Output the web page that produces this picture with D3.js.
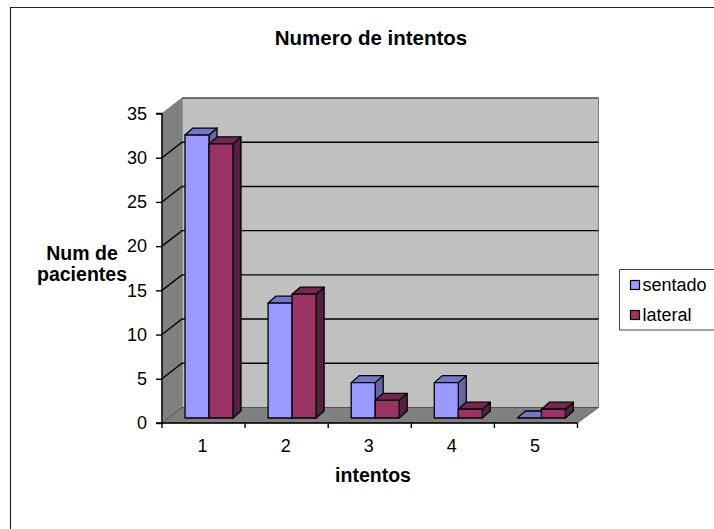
<!DOCTYPE html>
<html>
<head>
<meta charset="utf-8">
<script src="https://cdn.jsdelivr.net/npm/d3@7/dist/d3.min.js"></script>
<style>
  html, body { margin: 0; padding: 0; background: #fff; }
  svg { display: block; }
  text { font-family: "Liberation Sans", Arial, sans-serif; fill: #000; }
</style>
</head>
<body>
<svg id="chart" width="714" height="529"></svg>
<script>
// Patient counts per number of attempts
const categories = ["1", "2", "3", "4", "5"];
const sentado = [32, 13, 4, 4, 0];
const lateral = [31, 14, 2, 1, 1];
const seriesNames = ["sentado", "lateral"];
const yTicks = [0, 5, 10, 15, 20, 25, 30, 35];

const palette = {
  sentado: { front: "#9999ff", top: "#7676c8", side: "#6666a6" },
  lateral: { front: "#993366", top: "#752750", side: "#54203f" }
};

const svg = d3.select("#chart");

// Oblique projection: the room recedes up and to the right
const wallDx = 20, wallDy = 15.5;
const barFrontDx = 6, barFrontDy = 5;
const barDepthDx = 8, barDepthDy = 7;

const x = d3.scaleBand().domain(categories).range([162, 577.5]);
const y = d3.scaleLinear().domain([0, 35]).range([423, 113.5]);
const inner = d3.scaleBand().domain(seriesNames).range([0, 48]);
const barOffset = 23;

const poly = pts => pts.map(p => p.join(",")).join(" ");
const [x0, x1] = x.range();
const [y0, y1] = y.range();

// Frame around the chart area, open at the right and bottom page edges
svg.append("path")
  .attr("d", d3.line()([[10.5, 529], [10.5, 7.5], [714, 7.5]]))
  .attr("fill", "none").attr("stroke", "#222").attr("stroke-width", 1.2);

// Back wall, side wall and floor
const room = svg.append("g");
room.append("polygon")
  .attr("points", poly([[x0 + wallDx, y1 - wallDy], [x1 + wallDx + 1, y1 - wallDy], [x1 + wallDx + 1, y0 - wallDy], [x0 + wallDx, y0 - wallDy]]))
  .attr("fill", "#c0c0c0").attr("stroke", "#808080").attr("stroke-width", 1);
room.append("polygon")
  .attr("points", poly([[x0, y1], [x0 + wallDx, y1 - wallDy], [x0 + wallDx, y0 - wallDy], [x0, y0]]))
  .attr("fill", "#808080").attr("stroke", "#808080").attr("stroke-width", 1);
room.append("polygon")
  .attr("points", poly([[x0, y0], [x0 + wallDx, y0 - wallDy], [x1 + wallDx + 1, y0 - wallDy], [x1, y0]]))
  .attr("fill", "#808080").attr("stroke", "#333").attr("stroke-width", 0.6);

// Gridlines folded from the side wall onto the back wall
const gridValues = yTicks.filter(v => v > 0 && v < 35);
svg.append("g").selectAll("path").data(gridValues).join("path")
  .attr("d", v => d3.line()([[x0, y(v)], [x0 + wallDx, y(v) - wallDy], [x1 + wallDx + 1, y(v) - wallDy]]))
  .attr("fill", "none").attr("stroke", "#000").attr("stroke-width", 1.4);
svg.append("path")
  .attr("d", d3.line()([[x0 + wallDx, y1 - wallDy], [x1 + wallDx + 1, y1 - wallDy]]))
  .attr("stroke", "#333").attr("stroke-width", 1);

// Axes
const yAxis = d3.axisLeft(y).tickValues(yTicks).tickSize(6).tickPadding(9);
const xAxis = d3.axisBottom(x).tickSize(0).tickPadding(16);

const yG = svg.append("g").attr("transform", `translate(${x0},0)`).call(yAxis);
yG.select(".domain").attr("d", `M-6,${y1}H0V${y0}H-6`).attr("stroke", "#000").attr("stroke-width", 1.4);
yG.selectAll("line").attr("stroke", "#000").attr("stroke-width", 1.4);
yG.selectAll("text").style("font-size", "18px");

const xG = svg.append("g").attr("transform", `translate(-1,${y0})`).call(xAxis);
xG.select(".domain").attr("d", `M${x0 + 1},0H${x1 + 1}`).attr("stroke", "#000").attr("stroke-width", 1.4);
xG.selectAll("text").style("font-size", "18px");
xG.selectAll(".cat-tick").data(d3.range(categories.length + 1)).join("line")
  .attr("class", "cat-tick")
  .attr("x1", i => x0 + 1 + i * x.step()).attr("x2", i => x0 + 1 + i * x.step())
  .attr("y1", 0).attr("y2", 5)
  .attr("stroke", "#000").attr("stroke-width", 1.4);

// Bars, each a front face with a top and a side face
const rows = categories.flatMap((c, i) => [
  { c, key: "sentado", v: sentado[i] },
  { c, key: "lateral", v: lateral[i] }
]);

const bars = svg.append("g").selectAll("g").data(rows).join("g")
  .attr("stroke", "#000").attr("stroke-width", 1.3).attr("stroke-linejoin", "round");

const base = y0 - barFrontDy;
const left = d => x(d.c) + barOffset + inner(d.key);
const right = d => left(d) + inner.bandwidth();
const topY = d => base - (y0 - y(d.v));

bars.append("polygon")
  .attr("points", d => poly([[right(d), topY(d)], [right(d) + barDepthDx, topY(d) - barDepthDy], [right(d) + barDepthDx, base - barDepthDy], [right(d), base]]))
  .attr("fill", d => palette[d.key].side);
bars.append("polygon")
  .attr("points", d => poly([[left(d), topY(d)], [left(d) + barDepthDx, topY(d) - barDepthDy], [right(d) + barDepthDx, topY(d) - barDepthDy], [right(d), topY(d)]]))
  .attr("fill", d => palette[d.key].top);
bars.filter(d => d.v > 0).append("rect")
  .attr("x", left).attr("y", topY)
  .attr("width", inner.bandwidth())
  .attr("height", d => base - topY(d))
  .attr("fill", d => palette[d.key].front);

// Titles
svg.append("text").attr("x", 371).attr("y", 45).attr("text-anchor", "middle")
  .style("font-size", "20.5px").style("font-weight", "bold").text("Numero de intentos");
svg.append("text").attr("x", 373).attr("y", 482).attr("text-anchor", "middle")
  .style("font-size", "19.5px").style("font-weight", "bold").text("intentos");
const yTitle = svg.append("text").attr("text-anchor", "middle")
  .style("font-size", "19.5px").style("font-weight", "bold");
yTitle.append("tspan").attr("x", 82).attr("y", 260).text("Num de");
yTitle.append("tspan").attr("x", 82).attr("y", 281).text("pacientes");

// Legend
const legend = svg.append("g");
legend.append("path")
  .attr("d", d3.line()([[714, 269.5], [619.5, 269.5], [619.5, 330], [714, 330]]))
  .attr("fill", "none").attr("stroke", "#444").attr("stroke-width", 1);
const legendY = d3.scalePoint().domain(seriesNames).range([285, 315]);
const items = legend.selectAll("g").data(seriesNames).join("g")
  .attr("transform", d => `translate(630,${legendY(d)})`);
items.append("rect")
  .attr("x", 0.5).attr("y", -4.5).attr("width", 9).attr("height", 9)
  .attr("fill", d => palette[d].front).attr("stroke", "#000").attr("stroke-width", 1.2);
items.append("text").attr("x", 12.5).attr("y", 6)
  .style("font-size", "18px").text(d => d);
</script>
</body>
</html>
